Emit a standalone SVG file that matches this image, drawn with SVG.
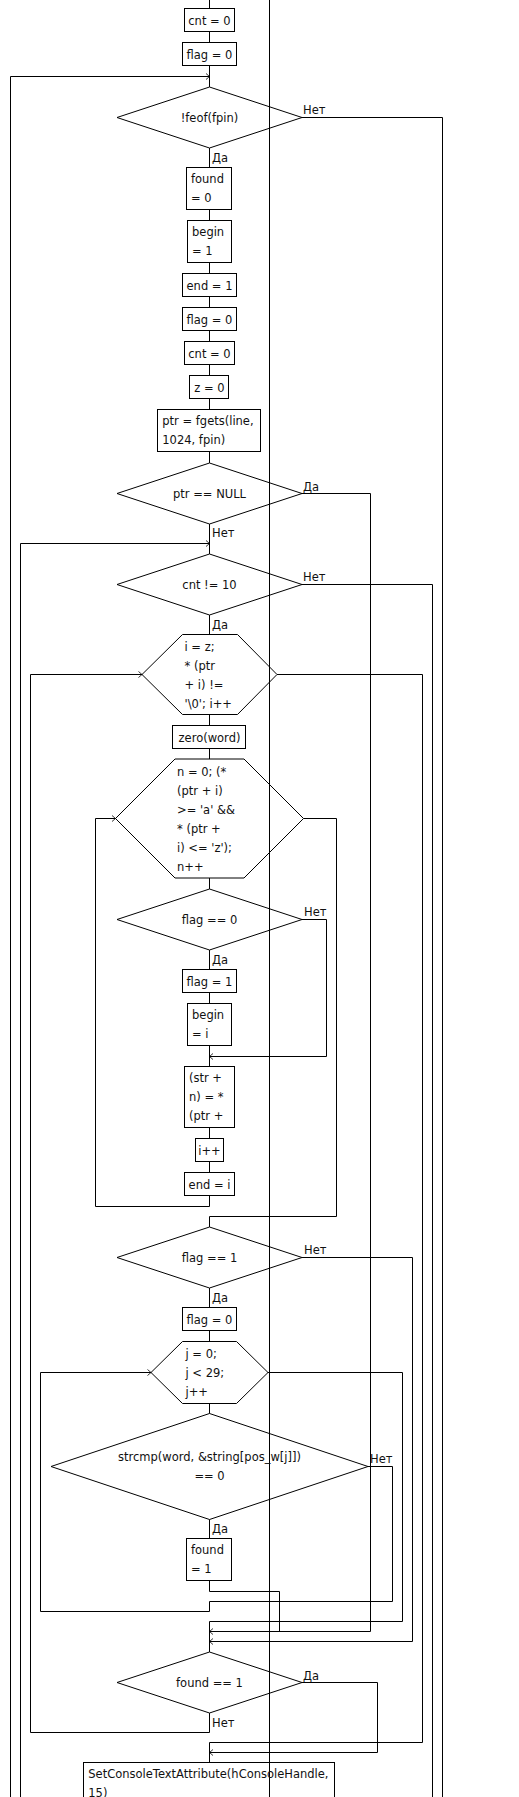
<svg xmlns="http://www.w3.org/2000/svg" width="519" height="1797" viewBox="0 0 519 1797">
<style>
.s{fill:none;stroke:#000;stroke-width:1}
.t{font-family:"DejaVu Sans",Verdana,sans-serif;font-size:11.5px;fill:#111}
.c{text-anchor:middle}
.a{marker-end:url(#ar)}
</style>
<defs>
<marker id="ar" markerWidth="6" markerHeight="8" refX="3.5" refY="3" orient="auto" markerUnits="userSpaceOnUse" overflow="visible"><path d="M0,0 L3.5,3 L0,6" fill="none" stroke="#000" stroke-width="0.8"/></marker>
</defs>
<rect width="519" height="1797" fill="#fff"/>
<g id="connectors">
<line class="s" x1="269.5" y1="0" x2="269.5" y2="1797"/>
<path class="s" d="M209.5,0V8.5M209.5,31.5V42.5M209.5,65.5V87M209.5,148V167.5M209.5,209.5V220.5M209.5,262.5V273.5M209.5,296.5V307.5M209.5,330.5V341.5M209.5,364.5V375.5M209.5,398.5V409.5M209.5,451.5V463M209.5,524V554M209.5,615V634.5M209.5,714.5V725.5M209.5,748.5V759M209.5,878V889M209.5,950V969.5M209.5,992.5V1003.5M209.5,1045.5V1066.5M209.5,1127.5V1138.5M209.5,1161.5V1172.5M209.5,1288V1307.5M209.5,1330.5V1341.5M209.5,1403.5V1413.5M209.5,1519.5V1538.5"/>
<polyline class="s a" points="10.5,1797 10.5,76.5 209.5,76.5"/>
<polyline class="s a" points="20.5,1797 20.5,543.5 209.5,543.5"/>
<polyline class="s a" points="209.5,1713 209.5,1732.5 30.5,1732.5 30.5,674.5 142,674.5"/>
<polyline class="s a" points="209.5,1195.5 209.5,1206.5 95.5,1206.5 95.5,818.5 115.5,818.5"/>
<polyline class="s a" points="368,1466.5 392.5,1466.5 392.5,1601.5 209.5,1601.5 209.5,1611.5 40.5,1611.5 40.5,1372.5 151,1372.5"/>
<polyline class="s a" points="302,919.5 326.5,919.5 326.5,1056.5 209.5,1056.5"/>
<polyline class="s a" points="302,493.5 370.5,493.5 370.5,1631.5 209.5,1631.5"/>
<polyline class="s" points="209.5,1580.5 209.5,1591.5 279.5,1591.5 279.5,1631.5"/>
<polyline class="s a" points="302,1257.5 412.5,1257.5 412.5,1641.5 209.5,1641.5"/>
<polyline class="s" points="268,1372.5 402.5,1372.5 402.5,1621.5 209.5,1621.5 209.5,1652"/>
<polyline class="s a" points="302,1682.5 377.5,1682.5 377.5,1752.5 209.5,1752.5"/>
<polyline class="s" points="277,674.5 422.5,674.5 422.5,1742.5 209.5,1742.5 209.5,1762.5"/>
<polyline class="s" points="302,584.5 432.5,584.5 432.5,1797"/>
<polyline class="s" points="302,117.5 442.5,117.5 442.5,1797"/>
<polyline class="s" points="303.5,818.5 336.5,818.5 336.5,1216.5 209.5,1216.5 209.5,1227"/>
</g>
<g id="labels" class="t">
<text x="303" y="114">Нет</text>
<text x="212" y="162">Да</text>
<text x="303" y="490.5">Да</text>
<text x="212" y="537">Нет</text>
<text x="303" y="581">Нет</text>
<text x="212" y="629">Да</text>
<text x="304" y="916">Нет</text>
<text x="212" y="963.5">Да</text>
<text x="304" y="1254">Нет</text>
<text x="212" y="1302">Да</text>
<text x="370" y="1463">Нет</text>
<text x="212" y="1533">Да</text>
<text x="303" y="1680">Да</text>
<text x="212" y="1726.5">Нет</text>
</g>
<g id="n1"><rect class="s" x="184.5" y="8.5" width="50" height="23"/><text class="t c" x="209.5" y="24.5">cnt = 0</text></g>
<g id="n2"><rect class="s" x="182.5" y="42.5" width="54" height="23"/><text class="t c" x="209.5" y="58.5">flag = 0</text></g>
<g id="n3"><polygon class="s" points="209.5,87 302,117.5 209.5,148 117,117.5"/><text class="t c" x="209.5" y="121.5">!feof(fpin)</text></g>
<g id="n4"><rect class="s" x="186.5" y="167.5" width="45" height="42"/><text class="t" x="191" y="183">found<tspan x="191" dy="19">= 0</tspan></text></g>
<g id="n5"><rect class="s" x="187.5" y="220.5" width="44" height="42"/><text class="t" x="192" y="236">begin<tspan x="192" dy="19">= 1</tspan></text></g>
<g id="n6"><rect class="s" x="182.5" y="273.5" width="54" height="23"/><text class="t c" x="209.5" y="289.5">end = 1</text></g>
<g id="n7"><rect class="s" x="182.5" y="307.5" width="54" height="23"/><text class="t c" x="209.5" y="323.5">flag = 0</text></g>
<g id="n8"><rect class="s" x="184.5" y="341.5" width="50" height="23"/><text class="t c" x="209.5" y="357.5">cnt = 0</text></g>
<g id="n9"><rect class="s" x="189.5" y="375.5" width="39" height="23"/><text class="t c" x="209.5" y="391.5">z = 0</text></g>
<g id="n10"><rect class="s" x="157.5" y="409.5" width="103" height="42"/><text class="t" x="162.3" y="425">ptr = fgets(line,<tspan x="162.3" dy="19">1024, fpin)</tspan></text></g>
<g id="n11"><polygon class="s" points="209.5,463 302,493.5 209.5,524 117,493.5"/><text class="t c" x="209.5" y="497.5">ptr == NULL</text></g>
<g id="n12"><polygon class="s" points="209.5,554 302,584.5 209.5,615 117,584.5"/><text class="t c" x="209.5" y="588.5">cnt != 10</text></g>
<g id="n13"><polygon class="s" points="182.5,634.5 237.5,634.5 277,674.5 237.5,714.5 182.5,714.5 142,674.5"/><text class="t" x="184.5" y="651">i = z;<tspan x="184.5" dy="19">* (ptr</tspan><tspan x="184.5" dy="19">+ i) !=</tspan><tspan x="184.5" dy="19">'\0'; i++</tspan></text></g>
<g id="n14"><rect class="s" x="172.5" y="725.5" width="73" height="23"/><text class="t c" x="209.5" y="741.5">zero(word)</text></g>
<g id="n15"><polygon class="s" points="175,759 244,759 303.5,818.5 244,878 175,878 115.5,818.5"/><text class="t" x="177" y="776">n = 0; (*<tspan x="177" dy="19">(ptr + i)</tspan><tspan x="177" dy="19">&gt;= 'a' &amp;&amp;</tspan><tspan x="177" dy="19">* (ptr +</tspan><tspan x="177" dy="19">i) &lt;= 'z');</tspan><tspan x="177" dy="19">n++</tspan></text></g>
<g id="n16"><polygon class="s" points="209.5,889 302,919.5 209.5,950 117,919.5"/><text class="t c" x="209.5" y="923.5">flag == 0</text></g>
<g id="n17"><rect class="s" x="182.5" y="969.5" width="54" height="23"/><text class="t c" x="209.5" y="985.5">flag = 1</text></g>
<g id="n18"><rect class="s" x="187.5" y="1003.5" width="44" height="42"/><text class="t" x="192" y="1019">begin<tspan x="192" dy="19">= i</tspan></text></g>
<g id="n19"><rect class="s" x="184.5" y="1066.5" width="50" height="61"/><text class="t" x="189" y="1082">(str +<tspan x="189" dy="19">n) = *</tspan><tspan x="189" dy="19">(ptr +</tspan></text></g>
<g id="n20"><rect class="s" x="195.5" y="1138.5" width="28" height="23"/><text class="t c" x="209.5" y="1154.5">i++</text></g>
<g id="n21"><rect class="s" x="184.5" y="1172.5" width="50" height="23"/><text class="t c" x="209.5" y="1188.5">end = i</text></g>
<g id="n22"><polygon class="s" points="209.5,1227 302,1257.5 209.5,1288 117,1257.5"/><text class="t c" x="209.5" y="1261.5">flag == 1</text></g>
<g id="n23"><rect class="s" x="182.5" y="1307.5" width="54" height="23"/><text class="t c" x="209.5" y="1323.5">flag = 0</text></g>
<g id="n24"><polygon class="s" points="182.5,1341.5 236.5,1341.5 268,1372.5 236.5,1403.5 182.5,1403.5 151,1372.5"/><text class="t" x="185.5" y="1357.5">j = 0;<tspan x="185.5" dy="19">j &lt; 29;</tspan><tspan x="185.5" dy="19">j++</tspan></text></g>
<g id="n25"><polygon class="s" points="209.5,1413.5 368,1466.5 209.5,1519.5 51,1466.5"/><text class="t c" x="209.5" y="1461">strcmp(word, &amp;string[pos_w[j]])<tspan x="209.5" dy="19">== 0</tspan></text></g>
<g id="n26"><rect class="s" x="186.5" y="1538.5" width="45" height="42"/><text class="t" x="191" y="1554">found<tspan x="191" dy="19">= 1</tspan></text></g>
<g id="n27"><polygon class="s" points="209.5,1652 302,1682.5 209.5,1713 117,1682.5"/><text class="t c" x="209.5" y="1686.5">found == 1</text></g>
<g id="n28"><rect class="s" x="83.5" y="1762.5" width="251" height="61"/><text class="t" x="88.3" y="1778">SetConsoleTextAttribute(hConsoleHandle,<tspan x="88.3" dy="19">15)</tspan></text></g>
</svg>
